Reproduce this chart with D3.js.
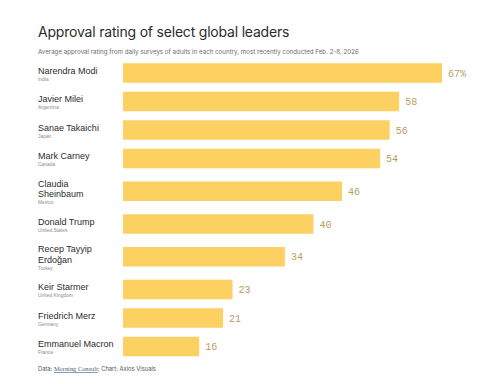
<!DOCTYPE html>
<html>
<head>
<meta charset="utf-8">
<script src="https://cdn.jsdelivr.net/npm/d3@7"></script>
<style>
  body { margin: 0; background: #fff; }
  svg { display: block; }
</style>
</head>
<body>
<svg width="480" height="384"></svg>
<script>
/*
Chart data: leader names (line breaks as "|"), countries, approval values
*/
var leaders = ["Narendra Modi", "Javier Milei", "Sanae Takaichi", "Mark Carney", "Claudia|Sheinbaum",
               "Donald Trump", "Recep Tayyip|Erdoğan", "Keir Starmer", "Friedrich Merz", "Emmanuel Macron"];
var countries = ["India", "Argentina", "Japan", "Canada", "Mexico",
                 "United States", "Turkey", "United Kingdom", "Germany", "France"];
var approval = [67, 58, 56, 54, 46, 40, 34, 23, 21, 16];

var svg = d3.select("svg"),
    margin = {left: 38, barLeft: 123, barRight: 442};

var xScale = d3.scaleLinear().domain([0, d3.max(approval)]).range([margin.barLeft, margin.barRight]);

/*
Rows grow with the number of name lines, so the centers are stacked up here.
*/
var rows = leaders.map(function(name, i) {
  return {name: name.split("|"), country: countries[i], value: approval[i]};
});
var cursor = 58.75;
rows.forEach(function(r) {
  var h = r.name.length > 1 ? 37 : 28.5;
  r.cy = cursor + h / 2;
  cursor += h;
});
var yScale = d3.scaleOrdinal().domain(leaders).range(rows.map(function(r) { return r.cy; }));
var barH = 19.5;

// title + subtitle
svg.append("text")
    .attr("x", margin.left).attr("y", 37)
    .style("font", "14px Inter, 'Liberation Sans', sans-serif")
    .style("fill", "#2b2b2b")
    .style("letter-spacing", "-0.2px")
    .text("Approval rating of select global leaders");

svg.append("text")
    .attr("x", margin.left).attr("y", 53.5)
    .style("font", "6.2px Inter, 'Liberation Sans', sans-serif")
    .style("fill", "#6b6b6b")
    .text("Average approval rating from daily surveys of adults in each country, most recently conducted Feb. 2-8, 2026");

var row = svg.selectAll(".row")
    .data(rows)
    .enter().append("g")
    .attr("class", "row");

row.append("rect")
    .attr("x", xScale(0))
    .attr("y", function(d, i) { return yScale(leaders[i]) - barH / 2; })
    .attr("width", function(d) { return xScale(d.value) - xScale(0); })
    .attr("height", barH)
    .attr("fill", "#fdd062");

row.append("text")
    .attr("x", function(d) { return xScale(d.value) + 6; })
    .attr("y", function(d, i) { return yScale(leaders[i]) + 3.5; })
    .style("font", "10px 'Liberation Mono', 'DejaVu Sans Mono', monospace")
    .style("fill", "#b89e60")
    .text(function(d, i) { return i === 0 ? d.value + "%" : d.value; });

// names, one tspan per line, then the country underneath
row.each(function(d, i) {
  var g = d3.select(this),
      n = d.name.length,
      first = yScale(leaders[i]) + 0.5 - (n - 1) * 10.5 / 2;
  g.selectAll(".name")
      .data(d.name)
      .enter().append("text")
      .attr("class", "name")
      .attr("x", margin.left)
      .attr("y", function(t, j) { return first + j * 10.5; })
      .style("font", "9px 'Liberation Sans', Arial, sans-serif")
      .style("fill", "#2b2b2b")
      .text(function(t) { return t; });
  g.append("text")
      .attr("x", margin.left)
      .attr("y", first + (n - 1) * 10.5 + 7)
      .style("font", "4.9px 'Liberation Sans', Arial, sans-serif")
      .style("fill", "#8a8a8a")
      .text(d.country);
});

// footer
var foot = svg.append("text")
    .attr("x", margin.left).attr("y", 371)
    .style("font", "5.8px Inter, 'Liberation Sans', sans-serif")
    .style("fill", "#555");
foot.append("tspan").text("Data: ");
foot.append("tspan")
    .style("font-family", "'Liberation Serif', 'DejaVu Serif', serif")
    .style("font-size", "6.4px")
    .style("fill", "#4a6583")
    .style("text-decoration", "underline")
    .text("Morning Consult");
foot.append("tspan").text("; Chart: Axios Visuals");
</script>
</body>
</html>
